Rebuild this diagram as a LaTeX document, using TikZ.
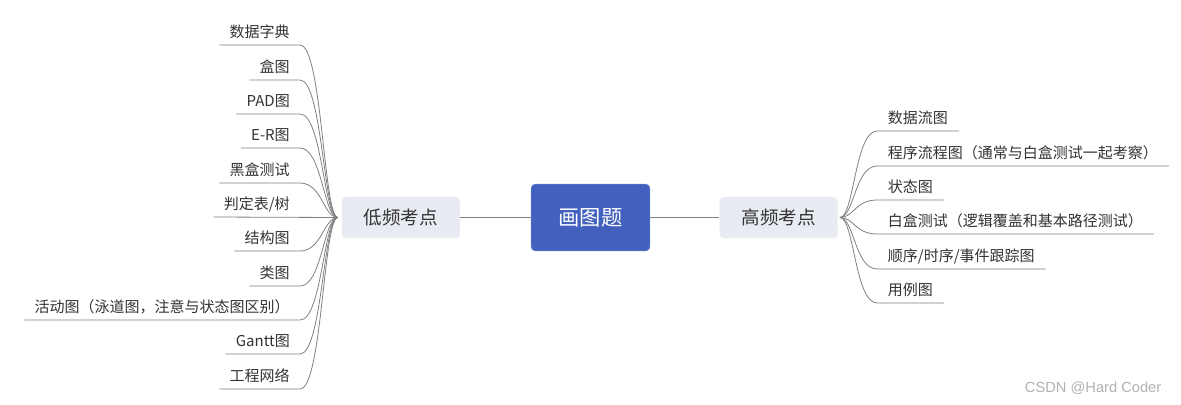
\documentclass[tikz,border=0pt]{standalone}
\usepackage{fontspec}
\setmainfont{Noto Sans CJK SC}
\setsansfont{Liberation Sans}
\usetikzlibrary{calc,positioning}
\definecolor{topicblue}{RGB}{66,96,190}
\definecolor{subgray}{RGB}{233,235,243}
\definecolor{linegray}{RGB}{128,128,128}
\definecolor{textgray}{RGB}{51,51,51}
\tikzset{root/.style={rectangle, rounded corners=3pt, fill=topicblue, draw=topicblue!80, text=white, minimum width=89pt, minimum height=50pt, font=\fontsize{16}{18}\selectfont},
  sub/.style={rectangle, rounded corners=3pt, fill=subgray, text=textgray, minimum width=88.5pt, minimum height=31pt, font=\fontsize{13.9}{16}\selectfont},
  leafl/.style={anchor=south east, inner xsep=7.5pt, inner ysep=5.5pt, text height=0.9em, text depth=0pt, text=textgray, font=\fontsize{11.25}{13}\selectfont},
  leafr/.style={leafl, anchor=south west, inner xsep=8pt},
  branch/.style={draw=linegray, line width=0.6pt}}

\begin{document}
\begin{tikzpicture}[x=0.75pt, y=-0.75pt]
    \useasboundingbox (0,0) rectangle (1181,404);
    \fill[white] (0,0) rectangle (1181,404);
    \node[root] (root) at (590.5,217.5) {画图题};
    \node[sub, left=53pt of root] (low) {低频考点};
    \node[sub, right=52pt of root] (high) {高频考点};
    \coordinate (jl) at ($(low.west)+(-4,0)$);
    \coordinate (jr) at ($(high.east)+(2,0)$);
    \draw[branch] (low) -- (root);
    \draw[branch] (root) -- (high);
    % low frequency
    \node[leafl] (l1) at (300,45) {数据字典};
    \node[leafl] (l2) at (300,80) {盒图};
    \node[leafl] (l3) at (300,114) {PAD图};
    \node[leafl] (l4) at (300,148) {E-R图};
    \node[leafl] (l5) at (300,183) {黑盒测试};
    \node[leafl] (l6) at (300,217) {判定表/树};
    \node[leafl] (l7) at (300,251) {结构图};
    \node[leafl] (l8) at (300,286) {类图};
    \node[leafl] (l9) at (300,320) {活动图（泳道图，注意与状态图区别）};
    \node[leafl] (l10) at (300,354) {Gantt图};
    \node[leafl] (l11) at (300,389) {工程网络};
    \draw[branch] (l1.south west) -- (l1.south east) .. controls +(22,0) and ($(jl)+(-14,0)$) .. (jl);
    \draw[branch] (l2.south west) -- (l2.south east) .. controls +(22,0) and ($(jl)+(-14,0)$) .. (jl);
    \draw[branch] (l3.south west) -- (l3.south east) .. controls +(22,0) and ($(jl)+(-14,0)$) .. (jl);
    \draw[branch] (l4.south west) -- (l4.south east) .. controls +(22,0) and ($(jl)+(-14,0)$) .. (jl);
    \draw[branch] (l5.south west) -- (l5.south east) .. controls +(22,0) and ($(jl)+(-14,0)$) .. (jl);
    \draw[branch] (l6.south west) -- (jl);
    \draw[branch] (l7.south west) -- (l7.south east) .. controls +(22,0) and ($(jl)+(-14,0)$) .. (jl);
    \draw[branch] (l8.south west) -- (l8.south east) .. controls +(22,0) and ($(jl)+(-14,0)$) .. (jl);
    \draw[branch] (l9.south west) -- (l9.south east) .. controls +(22,0) and ($(jl)+(-14,0)$) .. (jl);
    \draw[branch] (l10.south west) -- (l10.south east) .. controls +(22,0) and ($(jl)+(-14,0)$) .. (jl);
    \draw[branch] (l11.south west) -- (l11.south east) .. controls +(22,0) and ($(jl)+(-14,0)$) .. (jl);
    % high frequency
    \node[leafr] (r1) at (877,131) {数据流图};
    \node[leafr] (r2) at (877,166) {程序流程图（通常与白盒测试一起考察）};
    \node[leafr] (r3) at (877,200) {状态图};
    \node[leafr] (r4) at (877,234) {白盒测试（逻辑覆盖和基本路径测试）};
    \node[leafr] (r5) at (877,269) {顺序/时序/事件跟踪图};
    \node[leafr] (r6) at (877,303) {用例图};
    \draw[branch] (r1.south east) -- (r1.south west) .. controls +(-22,0) and ($(jr)+(14,0)$) .. (jr);
    \draw[branch] (r2.south east) -- (r2.south west) .. controls +(-22,0) and ($(jr)+(14,0)$) .. (jr);
    \draw[branch] (r3.south east) -- (r3.south west) .. controls +(-22,0) and ($(jr)+(14,0)$) .. (jr);
    \draw[branch] (r4.south east) -- (r4.south west) .. controls +(-22,0) and ($(jr)+(14,0)$) .. (jr);
    \draw[branch] (r5.south east) -- (r5.south west) .. controls +(-22,0) and ($(jr)+(14,0)$) .. (jr);
    \draw[branch] (r6.south east) -- (r6.south west) .. controls +(-22,0) and ($(jr)+(14,0)$) .. (jr);
    \node[anchor=east, text=gray!60, font=\sffamily\fontsize{11}{13}\selectfont] (mark) at (1166,388) {CSDN @Hard Coder};
\end{tikzpicture}
\end{document}
